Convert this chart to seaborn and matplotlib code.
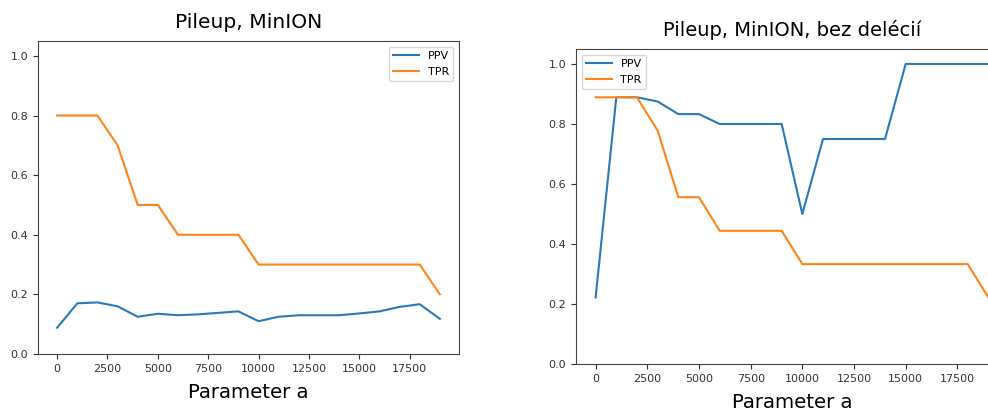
import pandas as pd
import seaborn as sns
import matplotlib.pyplot as plt

# parameter a values (shared by both panels)
param_a = list(range(0, 20000, 1000))

# Pileup, MinION
ppv_all = [0.088, 0.170, 0.173, 0.160, 0.125, 0.135, 0.130, 0.133, 0.138, 0.143,
           0.110, 0.125, 0.130, 0.130, 0.130, 0.136, 0.143, 0.158, 0.167, 0.118]
tpr_all = [0.8, 0.8, 0.8, 0.7, 0.5, 0.5, 0.4, 0.4, 0.4, 0.4,
           0.3, 0.3, 0.3, 0.3, 0.3, 0.3, 0.3, 0.3, 0.3, 0.2]

# Pileup, MinION, bez delécií
ppv_nodel = [0.222, 0.889, 0.889, 0.875, 0.833, 0.833, 0.8, 0.8, 0.8, 0.8,
             0.5, 0.75, 0.75, 0.75, 0.75, 1.0, 1.0, 1.0, 1.0, 1.0]
tpr_nodel = [0.889, 0.889, 0.889, 0.778, 0.556, 0.556, 0.444, 0.444, 0.444, 0.444,
             0.333, 0.333, 0.333, 0.333, 0.333, 0.333, 0.333, 0.333, 0.333, 0.222]

titles = ['Pileup, MinION', 'Pileup, MinION, bez delécií']
title_size = [14.6, 14]
legend_loc = ['upper right', 'upper left']

W, H = 988, 412
fig = plt.figure(figsize=(W / 100, H / 100), dpi=100)
# axes boxes in pixels: left, top, right, bottom
boxes = [(38, 41, 459, 354), (576, 49, 1008, 364)]

for i, (ppv, tpr) in enumerate([(ppv_all, tpr_all), (ppv_nodel, tpr_nodel)]):
    l, t, r, b = boxes[i]
    ax = fig.add_axes([l / W, 1 - b / H, (r - l) / W, (b - t) / H])
    df = pd.DataFrame({'a': param_a + param_a,
                       'val': ppv + tpr,
                       'metric': ['PPV'] * len(ppv) + ['TPR'] * len(tpr)})
    sns.lineplot(data=df, x='a', y='val', hue='metric', ax=ax,
                 palette=['#2a7ab9', '#ff8418'], linewidth=1.5)
    ax.set_ylim(0, 1.05)
    ax.set_xlim(-950, 19950)
    ax.set_xticks(range(0, 20000, 2500))
    ax.set_yticks([0, 0.2, 0.4, 0.6, 0.8, 1.0])
    ax.tick_params(labelsize=8, colors='#333333')
    for s in ax.spines.values():
        s.set_color('#444444')
    ax.set_ylabel('')
    ax.set_xlabel('Parameter a', fontsize=14.2, labelpad=7)
    ax.set_title(titles[i], fontsize=title_size[i], pad=9)
    ax.legend(title=None, loc=legend_loc[i], fontsize=8, handlelength=2.3)

fig.savefig('out.png', dpi=100)
